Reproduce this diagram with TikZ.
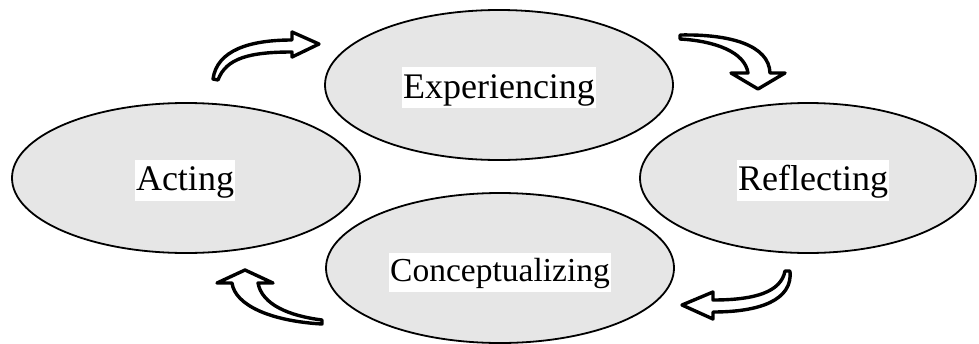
\documentclass[tikz,border=0pt]{standalone}
\usepackage{fontspec}
\setmainfont{Liberation Serif}
\usetikzlibrary{shapes.geometric}
\definecolor{stagefill}{RGB}{230,230,230}
\begin{document}
\begin{tikzpicture}[x=1pt,y=-1pt,
  stage/.style={ellipse, draw=black, line width=1.8pt, fill=stagefill,
    minimum width=348pt, minimum height=150pt, inner sep=0pt},
  stagelabel/.style={fill=white, inner xsep=1.5pt, inner ysep=1pt,
    text height=30pt, text depth=9pt, font=\fontsize{36}{40}\selectfont},
  cyclearrow/.style={draw=black, fill=white, line width=3.4pt, line join=round}]
\useasboundingbox (0,0) rectangle (979,343);

% the four stages of the cycle
\node[stage] (exp) at (499,85) {};
\node[stage] (act) at (186,178) {};
\node[stage, minimum width=336pt] (ref) at (808,178) {};
\node[stage] (con) at (500,268) {};

\node[stagelabel] (expl) at (499,87.5) {Experiencing};
\node[stagelabel] (actl) at (185,180) {Acting};
\node[stagelabel] (refl) at (813,180) {Reflecting};
\node[stagelabel, font=\fontsize{33.5}{38}\selectfont, text height=28pt, text depth=9pt] (conl) at (500,272) {Conceptualizing};

% curved block arrows between the stages
% Acting -> Experiencing
\path[cyclearrow] (213,79) .. controls (217,50) and (250,40) .. (292,40)
  -- (292,32) -- (319,44) -- (292,57) -- (292,52)
  .. controls (250,52) and (226,58) .. (218,80) -- cycle;
% Experiencing -> Reflecting
\path[cyclearrow] (680,35) .. controls (730,34) and (769,45) .. (770,73)
  -- (785,73) -- (758,89) -- (731,73) -- (748,73)
  .. controls (745,52) and (715,41) .. (680,39) -- cycle;
% Reflecting -> Conceptualizing
\path[cyclearrow] (790,271) .. controls (793,300) and (760,312) .. (713,312)
  -- (713,319) -- (682,305) -- (713,292) -- (713,300)
  .. controls (755,300) and (781,292) .. (785,271) -- cycle;
% Conceptualizing -> Acting
\path[cyclearrow] (322,324) .. controls (270,321) and (235,305) .. (232,283)
  -- (217,283) -- (245,270) -- (273,283) -- (258,283)
  .. controls (262,305) and (290,316) .. (322,320) -- cycle;
\end{tikzpicture}
\end{document}
